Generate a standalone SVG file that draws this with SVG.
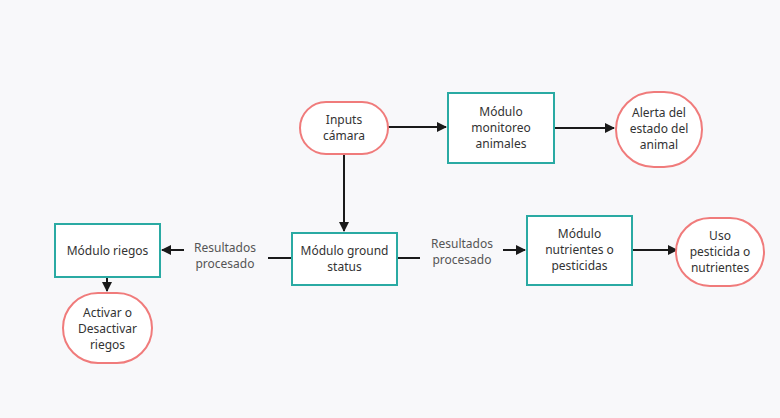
<svg xmlns="http://www.w3.org/2000/svg" width="780" height="418" viewBox="0 0 780 418">
<defs>
<marker id="ah" viewBox="0 0 10 10" refX="9" refY="5" markerWidth="5" markerHeight="5" markerUnits="strokeWidth" orient="auto"><path d="M0,0 L10,5 L0,10 z" fill="#1a1a1a"/></marker>
<style>
.box{fill:#fff;stroke:#2aaaa3;stroke-width:2}
.term{fill:#fff;stroke:#f07b7b;stroke-width:2}
.t{font-family:"Noto Sans","Open Sans",sans-serif;font-size:12px;fill:#333;text-anchor:middle}
.lbl{font-family:"Noto Sans","Open Sans",sans-serif;font-size:12px;fill:#555;text-anchor:middle}
.c{fill:none;stroke:#1a1a1a;stroke-width:2}
</style>
</defs>
<rect width="780" height="418" fill="#f8f8fa"/>
<g id="connectors">
<path class="c" d="M388,127 H446" marker-end="url(#ah)"/>
<path class="c" d="M554,128 H614" marker-end="url(#ah)"/>
<path class="c" d="M344,154 V231" marker-end="url(#ah)"/>
<path class="c" d="M292,258 H268"/>
<path class="c" d="M184,250 H162" marker-end="url(#ah)"/>
<path class="c" d="M107,277 V291" marker-end="url(#ah)"/>
<path class="c" d="M397,258 H420"/>
<path class="c" d="M503,250 H525" marker-end="url(#ah)"/>
<path class="c" d="M632,250 H677" marker-end="url(#ah)"/>
<text class="lbl" x="225" y="252">Resultados</text>
<text class="lbl" x="225" y="268">procesado</text>
<text class="lbl" x="462" y="248">Resultados</text>
<text class="lbl" x="462" y="264">procesado</text>
</g>
<g id="inputs">
<rect class="term" x="300" y="102" width="88" height="52" rx="26"/>
<text class="t" x="344" y="124">Inputs</text>
<text class="t" x="344" y="140">cámara</text>
</g>
<g id="monitoreo">
<rect class="box" x="448" y="93" width="106" height="70"/>
<text class="t" x="501" y="116">Módulo</text>
<text class="t" x="501" y="132">monitoreo</text>
<text class="t" x="501" y="148">animales</text>
</g>
<g id="alerta">
<rect class="term" x="616" y="92" width="86" height="75" rx="38"/>
<text class="t" x="659" y="117">Alerta del</text>
<text class="t" x="659" y="133">estado del</text>
<text class="t" x="659" y="149">animal</text>
</g>
<g id="ground">
<rect class="box" x="292" y="233" width="105" height="52"/>
<text class="t" x="344.5" y="255">Módulo ground</text>
<text class="t" x="344.5" y="271">status</text>
</g>
<g id="riegos">
<rect class="box" x="55" y="224" width="105" height="53"/>
<text class="t" x="107.5" y="255">Módulo riegos</text>
</g>
<g id="activar">
<rect class="term" x="63" y="293" width="89" height="70" rx="35"/>
<text class="t" x="107.5" y="317">Activar o</text>
<text class="t" x="107.5" y="333">Desactivar</text>
<text class="t" x="107.5" y="349">riegos</text>
</g>
<g id="nutrientes">
<rect class="box" x="527" y="216" width="105" height="69"/>
<text class="t" x="579.5" y="238">Módulo</text>
<text class="t" x="579.5" y="254">nutrientes o</text>
<text class="t" x="579.5" y="270">pesticidas</text>
</g>
<g id="uso">
<rect class="term" x="676" y="218" width="88" height="68" rx="34"/>
<text class="t" x="720" y="240">Uso</text>
<text class="t" x="720" y="256">pesticida o</text>
<text class="t" x="720" y="272">nutrientes</text>
</g>
</svg>
